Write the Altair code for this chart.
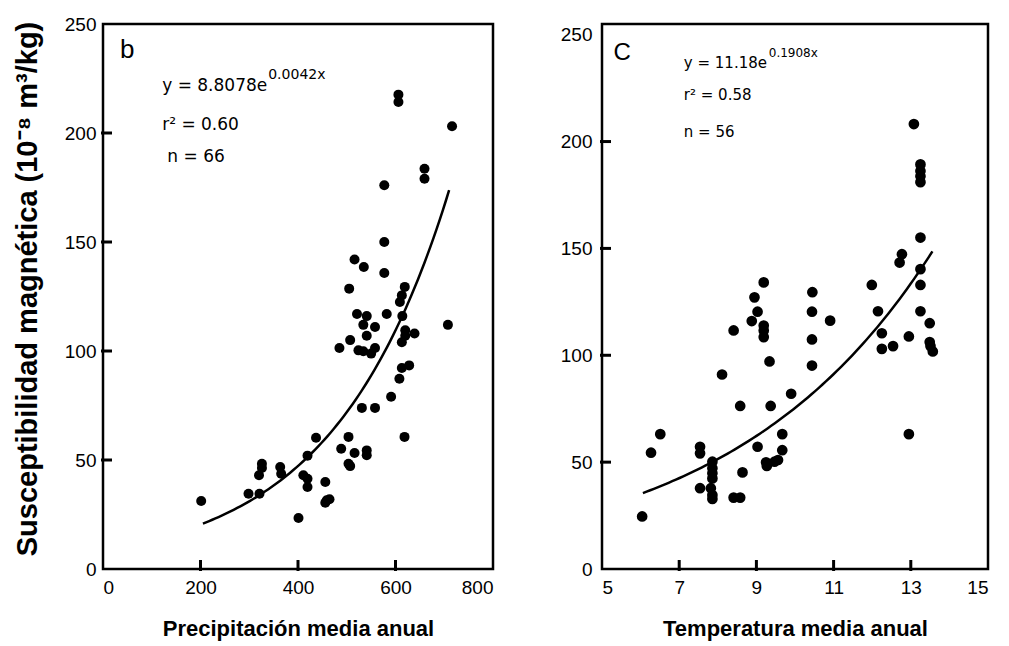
import altair as alt
import numpy as np
import pandas as pd

# ---------------- data: panel b (precipitation) ----------------
precip = [606, 606, 716, 659.5, 659.5, 577, 577, 516, 535, 577, 505, 619, 613, 609,
          614, 521, 541, 582, 534, 558, 707.5, 620, 620, 613, 639, 541, 507, 485,
          524, 534, 550, 558, 628, 613, 608, 591, 531, 558, 618.5, 437, 503.6,
          419.5, 488.6, 516, 541, 541, 503.6, 507, 326, 326, 320, 363.5, 365.5,
          411, 419.5, 419.5, 456, 459, 464.6, 456, 298.5, 321, 201.4, 401]
susc_b = [217.6, 214.2, 203.1, 183.6, 179.0, 176.0, 150.0, 142.0, 138.5, 135.8, 128.6,
          129.4, 125.5, 122.5, 116, 117, 116, 117, 112, 111, 112, 109.5, 107, 104,
          108, 107, 105, 101.4, 100.3, 99.9, 98.8, 101.4, 93.4, 92.2, 87.3, 79,
          73.9, 73.9, 60.6, 60.2, 60.6, 52, 55.2, 53.2, 54.4, 52.2, 48.3, 47.2,
          48.3, 46.3, 43, 46.8, 43.7, 43, 41.4, 37.6, 39.9, 31.5, 32, 30.4, 34.5,
          34.5, 31.2, 23.4]

# ---------------- data: panel c (temperature) ----------------
temp = [13.08, 13.25, 13.25, 13.25, 13.25, 13.25, 12.77, 12.71, 13.25, 13.25, 11.99,
        9.19, 10.45, 8.95, 9.03, 8.88, 9.19, 9.19, 9.19, 8.41, 10.44, 10.44, 10.44,
        10.91, 12.15, 12.25, 12.25, 12.54, 12.95, 13.25, 13.49, 13.49, 13.51, 13.57,
        12.95, 9.34, 8.11, 9.90, 8.58, 9.37, 9.67, 9.67, 9.56, 9.47, 9.03, 9.25,
        9.27, 8.64, 8.41, 8.58, 7.86, 7.86, 7.86, 7.86, 7.82, 7.86, 7.86, 7.54,
        7.54, 7.54, 6.51, 6.27, 6.04]
susc_c = [208.2, 189.3, 186.2, 183.8, 181.0, 155.1, 147.3, 143.4, 140.3, 132.9, 132.9,
          134.1, 129.5, 127.1, 120.4, 116.0, 113.9, 111.6, 108.5, 111.6, 120.4, 107.4,
          95.2, 116.2, 120.6, 110.3, 103.0, 104.3, 108.8, 120.6, 115.0, 106.2, 104.3,
          101.8, 63.1, 97.1, 91.0, 82.0, 76.3, 76.3, 63.1, 55.6, 51.0, 50.2, 57.2,
          49.9, 48.2, 45.2, 33.4, 33.4, 50.2, 47.1, 44.8, 42.4, 37.8, 34.6, 32.8,
          57.2, 54.1, 37.8, 63.1, 54.4, 24.6]

# fitted curves as printed on the chart: y = a * exp(b x)
fit_b = {"a": 8.8078, "b": 0.0042, "range": [205, 710]}
fit_c = {"a": 11.18, "b": 0.1908, "range": [6.06, 13.56]}

Y_TITLE = "Susceptibilidad magnética (10⁻⁸ m³/kg)"
LABEL_FONT = "Liberation Sans"
ANN_FONT = "DejaVu Sans"

ann_b = [
    ("b", 35, 234.4, 26, LABEL_FONT),
    ("y = 8.8078e", 121.4, 219.3, 17, ANN_FONT),
    ("0.0042x", 338.9, 224.8, 14, ANN_FONT),
    ("r² = 0.60", 121.4, 201.4, 17, ANN_FONT),
    ("n = 66", 131.9, 186.7, 17, ANN_FONT),
]
ann_c = [
    ("C", 5.30, 238.2, 24, LABEL_FONT),
    ("y = 11.18e", 7.12, 234.5, 15, ANN_FONT),
    ("0.1908x", 9.32, 239.6, 12, ANN_FONT),
    ("r² = 0.58", 7.12, 219.6, 15, ANN_FONT),
    ("n = 56", 7.12, 201.9, 15, ANN_FONT),
]

TICK_LEN = 9  # inward tick length in pixels


def curve(fit):
    xs = np.linspace(fit["range"][0], fit["range"][1], 80)
    return pd.DataFrame({"x": xs, "y": fit["a"] * np.exp(fit["b"] * xs)})


def panel(xs, ys, fit, xdom, xlabels, xticks, ydom, yticks, w, h, xtitle, ytitle,
          ann, ptsize, ylabpad):
    xscale = alt.Scale(domain=xdom, nice=False, zero=False)
    yscale = alt.Scale(domain=ydom, nice=False, zero=False)
    xaxis = alt.Axis(values=xlabels, title=xtitle, labelPadding=9, titlePadding=21)
    yaxis = alt.Axis(values=[0, 50, 100, 150, 200, 250], title=ytitle,
                     labelPadding=ylabpad, titlePadding=22, titleY=h / 2 - 8)
    X = lambda f: alt.X(f, scale=xscale, axis=xaxis)
    Y = lambda f: alt.Y(f, scale=yscale, axis=yaxis)

    pts = pd.DataFrame({"x": xs, "y": ys})
    base = alt.Chart(pts).mark_circle(size=ptsize, color="black", opacity=1).encode(
        x=X("x:Q"), y=Y("y:Q"))
    line = alt.Chart(curve(fit)).mark_line(color="black", strokeWidth=2.5).encode(
        x=X("x:Q"), y=Y("y:Q"))
    ytk = alt.Chart(pd.DataFrame({"y": yticks})).mark_rule(
        color="black", strokeWidth=3, opacity=1).encode(
        y=Y("y:Q"), x=alt.value(-2), x2=alt.value(TICK_LEN))
    xtk = alt.Chart(pd.DataFrame({"x": xticks})).mark_rule(
        color="black", strokeWidth=3, opacity=1).encode(
        x=X("x:Q"), y=alt.value(h + 2), y2=alt.value(h - TICK_LEN))
    layers = [base, line, ytk, xtk]
    for text, ax, ay, fs, font in ann:
        layers.append(
            alt.Chart(pd.DataFrame({"x": [ax], "y": [ay], "t": [text]})).mark_text(
                align="left", baseline="alphabetic", fontSize=fs, font=font,
                color="black").encode(x=X("x:Q"), y=Y("y:Q"), text="t:N"))
    return alt.layer(*layers).properties(width=w, height=h)


left = panel(precip, susc_b, fit_b, [0, 800], [0, 200, 400, 600, 800],
             [200, 400, 600], [0, 250], [50, 100, 150, 200], 390, 545,
             "Precipitación media anual", Y_TITLE, ann_b, 100, 7)
right = panel(temp, susc_c, fit_c, [5, 15], [5, 7, 9, 11, 13, 15],
              [7, 9, 11, 13], [0, 255], [50, 100, 150, 200], 386, 545,
              "Temperatura media anual", "", ann_c, 115, 10)

chart = alt.hconcat(left, right, spacing=109, bounds="flush").configure_view(
    stroke="black", strokeWidth=2.5
).configure_axis(
    grid=False, domain=False, ticks=False, tickSize=0,
    labelFont=LABEL_FONT, labelFontSize=19, labelColor="black",
    titleFont=LABEL_FONT, titleFontWeight="bold", titleColor="black",
).configure_axisX(titleFontSize=22).configure_axisY(titleFontSize=29).properties(
    padding={"left": 4, "top": 5, "right": 0, "bottom": 0},
    background="white",
)

chart.save("out.html", embed_options={"renderer": "svg", "actions": False})
